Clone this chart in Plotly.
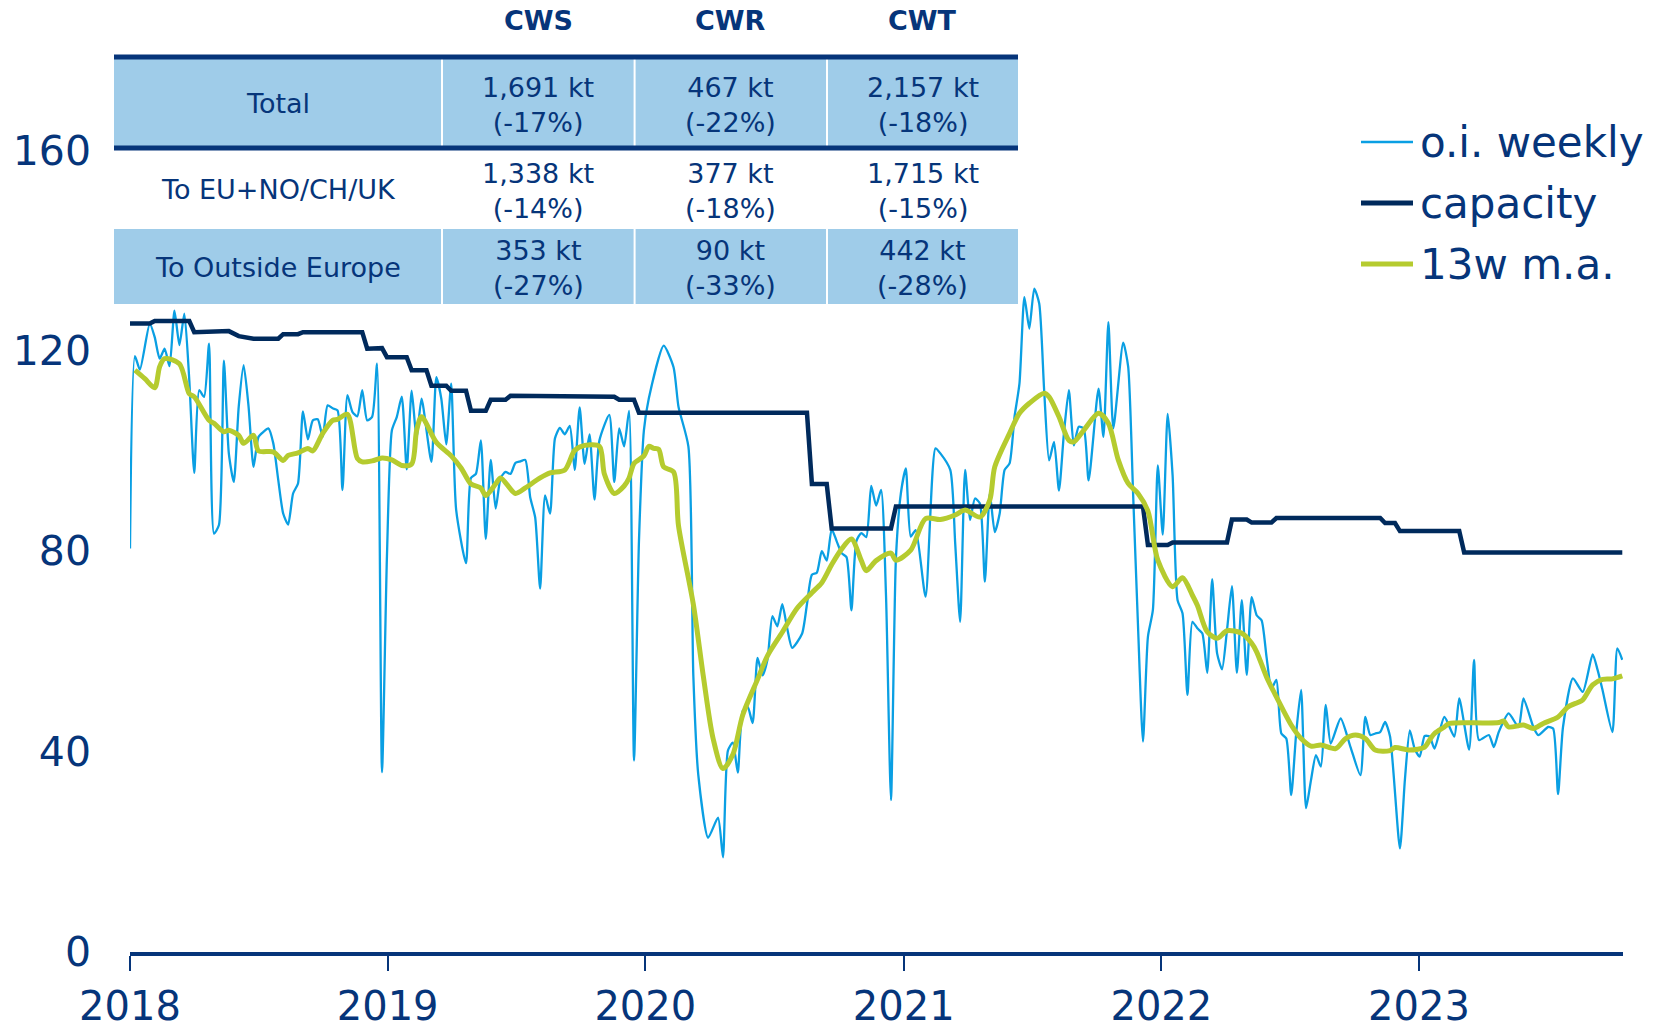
import pandas as pd
import plotly.graph_objects as go

# ---------------------------------------------------------------- data
START = pd.Timestamp("2018-01-01")

# o.i. weekly production (week offset from START, kt)
weekly_weeks = [
    0, 1, 2, 4, 5, 6, 7, 8, 9, 10, 11, 12, 13, 14, 15, 16, 17, 18, 19, 20,
    21, 22, 23, 24, 25, 26, 27, 28, 29, 30, 31, 32, 33, 34, 35, 36, 37, 38, 39, 40,
    41, 42, 43, 44, 45, 46, 47, 48, 49, 50, 51, 52, 53, 54, 55, 56, 57, 58, 59, 61,
    62, 63, 64, 65, 66, 68, 69, 70, 71, 72, 73, 74, 75, 76, 77, 78, 79, 80, 81, 82,
    83, 84, 85, 86, 87, 88, 89, 90, 91, 92, 93, 94, 95, 97, 98, 99, 100, 101, 102, 103,
    104, 105, 108, 110, 111, 113, 114, 115, 117, 119, 120, 121, 122, 123, 124, 125, 126, 127, 128, 129,
    130, 131, 132, 133, 134, 136, 137, 138, 139, 140, 141, 142, 143, 144, 145, 146, 147, 148, 149, 150,
    151, 152, 153, 154, 155, 156, 157, 158, 159, 161, 163, 164, 166, 167, 168, 169, 170, 171, 172, 173,
    174, 175, 176, 177, 178, 179, 180, 181, 182, 183, 184, 185, 186, 187, 188, 189, 190, 191, 192, 193,
    194, 196, 197, 198, 199, 201, 202, 203, 204, 205, 206, 207, 208, 209, 210, 211, 212, 213, 214, 215,
    216, 217, 218, 219, 220, 221, 222, 223, 224, 225, 226, 227, 228, 229, 230, 231, 232, 233, 234, 235,
    236, 237, 238, 239, 240, 241, 242, 243, 245, 247, 249, 250, 251, 252, 253, 254, 255, 257, 258, 259,
    260, 261, 262, 263, 264, 266, 268, 269, 271, 272, 273, 275, 276, 277, 279, 281, 282, 284, 285, 287,
    288, 289, 290, 292, 294, 296, 297, 298, 300, 301, 302,
]
weekly_values = [
    80.5, 118.9, 116.2, 125.4, 122.7, 118.4, 120.4, 116.9, 128.0, 121.1, 127.4, 114.1, 95.6, 112.1, 110.8, 121.4, 83.5, 85.2, 118.0, 99.5,
    93.8, 108.8, 117.1, 108.8, 96.8, 102.8, 103.8, 104.5, 101.5, 94.2, 87.5, 85.3, 91.5, 93.5, 107.9, 102.3, 106.1, 106.3, 102.8, 109.1,
    108.5, 108.1, 92.2, 111.1, 107.8, 106.9, 112.1, 106.1, 106.8, 117.4, 35.9, 79.0, 104.1, 106.8, 110.8, 96.3, 112.0, 102.5, 110.4, 97.8,
    114.7, 110.4, 101.3, 113.4, 88.3, 77.6, 94.6, 95.4, 102.1, 82.4, 98.2, 88.5, 94.6, 95.8, 95.4, 97.6, 97.9, 98.2, 90.7, 86.7,
    72.5, 91.1, 87.5, 102.5, 104.6, 103.3, 105.0, 96.2, 108.7, 97.4, 103.3, 90.3, 102.1, 107.2, 93.8, 104.5, 100.9, 108.0, 38.2, 82.0,
    104.1, 110.5, 121.0, 116.7, 108.8, 100.9, 55.2, 35.4, 22.8, 26.8, 18.9, 40.2, 41.8, 35.8, 48.1, 48.9, 45.7, 58.7, 55.2, 58.3,
    67.0, 65.0, 69.4, 64.6, 60.7, 63.5, 69.4, 75.3, 75.7, 80.0, 78.1, 84.4, 82.0, 79.6, 78.8, 68.2, 82.0, 83.6, 82.8, 93.0,
    89.1, 92.2, 71.0, 30.3, 78.5, 91.5, 96.5, 82.9, 84.2, 70.9, 100.5, 99.5, 96.2, 81.5, 65.9, 96.2, 86.2, 90.5, 89.5, 73.9,
    91.5, 83.8, 87.5, 96.2, 97.5, 106.8, 113.4, 130.7, 124.4, 132.4, 129.4, 112.1, 98.1, 101.8, 92.1, 103.5, 112.1, 101.1, 104.8, 104.5,
    94.1, 112.4, 102.8, 125.7, 104.5, 121.6, 116.8, 91.5, 64.9, 42.0, 62.9, 68.2, 97.1, 83.3, 107.4, 95.0, 70.2, 67.6, 51.3, 65.9,
    64.6, 63.6, 55.7, 74.4, 59.6, 56.4, 64.2, 73.0, 55.7, 70.2, 55.3, 70.8, 67.2, 66.2, 58.9, 52.6, 54.3, 43.6, 42.6, 31.3,
    43.6, 52.3, 28.7, 34.3, 39.3, 37.0, 49.3, 41.6, 46.6, 40.9, 35.3, 46.9, 43.3, 43.6, 43.9, 45.9, 43.0, 20.7, 34.3, 44.2,
    40.5, 39.0, 43.1, 43.0, 40.6, 46.9, 43.0, 50.6, 40.4, 58.3, 42.3, 43.3, 40.9, 43.9, 47.6, 44.9, 50.6, 44.9, 43.3, 44.9,
    44.6, 31.5, 44.9, 54.6, 51.9, 59.4, 56.3, 52.3, 43.9, 60.6, 58.3,
]

# 13-week moving average
ma_weeks = [
    1, 3, 5, 6, 7, 10, 12, 13, 16, 17, 19, 20, 22, 23, 25, 26, 29, 31, 32, 34,
    36, 37, 39, 41, 42, 44, 46, 47, 49, 51, 53, 55, 57, 58, 59, 62, 65, 67, 69, 71,
    72, 74, 75, 78, 80, 83, 85, 88, 90, 92, 95, 96, 98, 100, 101, 102, 104, 105, 106, 107,
    108, 110, 111, 114, 116, 118, 120, 122, 124, 127, 129, 132, 135, 138, 140, 142, 144, 146, 148, 149,
    151, 154, 155, 158, 161, 164, 167, 169, 172, 174, 175, 178, 180, 182, 185, 186, 188, 190, 191, 193,
    196, 198, 200, 202, 204, 206, 208, 211, 213, 215, 216, 218, 220, 222, 225, 227, 228, 230, 232, 235,
    237, 239, 241, 244, 246, 248, 250, 252, 255, 256, 259, 262, 263, 264, 266, 267, 274, 277, 278, 279,
    282, 284, 286, 289, 291, 293, 294, 296, 298, 300, 302,
]
ma_values = [
    116.1, 114.4, 112.6, 116.8, 118.4, 117.4, 111.4, 110.8, 106.1, 105.5, 103.8, 104.1, 103.1, 101.5, 103.1, 100.0, 99.8, 98.1, 99.1, 99.6,
    100.5, 100.0, 103.5, 106.1, 106.3, 107.3, 98.5, 97.8, 98.0, 98.6, 98.2, 97.1, 97.4, 104.1, 106.8, 101.7, 99.0, 96.6, 93.4, 92.6,
    91.1, 93.4, 94.6, 91.5, 92.6, 94.6, 95.6, 96.2, 100.1, 101.1, 100.9, 95.4, 91.5, 93.0, 94.6, 97.5, 99.0, 100.9, 100.5, 100.3,
    96.8, 95.8, 85.1, 69.4, 55.2, 42.6, 36.6, 39.4, 47.3, 54.4, 59.1, 63.8, 68.6, 71.7, 73.7, 77.3, 80.4, 82.4, 78.1, 76.1,
    78.1, 79.6, 78.2, 80.2, 86.5, 86.3, 87.2, 88.2, 86.8, 90.2, 96.8, 103.5, 107.5, 109.5, 111.5, 110.8, 106.8, 102.1, 101.8, 104.1,
    107.5, 105.5, 98.2, 93.5, 91.5, 88.0, 78.2, 72.9, 74.7, 71.2, 69.2, 63.9, 62.6, 64.1, 63.6, 61.6, 59.9, 54.9, 50.9, 45.3,
    42.6, 41.1, 41.3, 40.6, 42.6, 43.3, 42.6, 40.3, 40.2, 40.8, 40.3, 40.9, 42.3, 43.6, 44.9, 45.6, 45.7, 45.8, 46.1, 44.9,
    45.3, 44.6, 45.6, 46.9, 48.9, 49.8, 50.3, 53.3, 54.4, 54.5, 55.1,
]

# production capacity (week offset of each change point, kt)
capacity_weeks = [
    0, 4, 5, 12, 13, 20, 22, 25, 30, 31, 34, 35, 47, 48, 51, 52, 56, 57, 60, 61,
    64, 65, 68, 69, 72, 73, 76, 77, 98, 99, 102, 103, 137, 138, 141, 142, 154, 155, 205, 206,
    210, 211, 222, 223, 226, 227, 231, 232, 253, 254, 256, 257, 269, 270, 302,
]
capacity_values = [
    125.4, 125.4, 125.9, 125.9, 123.7, 123.9, 122.9, 122.4, 122.4, 123.3, 123.3, 123.7, 123.7, 120.4, 120.5, 118.7, 118.7, 116.1, 116.1, 113.0,
    113.0, 112.0, 112.0, 108.0, 108.0, 110.2, 110.2, 111.0, 110.8, 110.2, 110.2, 107.6, 107.6, 93.4, 93.4, 84.5, 84.5, 88.9, 88.9, 81.2,
    81.2, 81.7, 81.7, 86.3, 86.3, 85.7, 85.7, 86.6, 86.6, 85.6, 85.6, 84.0, 84.0, 79.7, 79.7,
]

y_ticks = [0, 40, 80, 120, 160]
x_tick_years = [2018, 2019, 2020, 2021, 2022, 2023]

# summary table
table_columns = ["CWS", "CWR", "CWT"]
table_rows = ["Total", "To EU+NO/CH/UK", "To Outside Europe"]
table_kt = [[1691, 467, 2157], [1338, 377, 1715], [353, 90, 442]]
table_pct = [[-17, -22, -18], [-14, -18, -15], [-27, -33, -28]]

legend_names = ["o.i. weekly", "capacity", "13w m.a."]

# ---------------------------------------------------------------- styling
NAVY_TEXT = "#06357a"
NAVY_LINE = "#002a5c"
BLUE = "#0a9fe3"
GREEN = "#b5cb2f"
TABLE_FILL = "#9fcce9"
FONT = "DejaVu Sans"
TABLE_SIZE = 27

W, H = 1663, 1031
ML, MR, MT, MB = 130, 40, 50, 79
PW, PH = W - ML - MR, H - MT - MB


def px_x(px):
    return (px - ML) / PW


def px_y(py):
    return (H - MB - py) / PH


def to_dates(weeks):
    return [START + pd.Timedelta(weeks=w) for w in weeks]


fig = go.Figure()
fig.add_trace(go.Scatter(
    x=to_dates(weekly_weeks), y=weekly_values, mode="lines", name=legend_names[0],
    line=dict(color=BLUE, width=2.3, shape="spline", smoothing=0.6),
))
fig.add_trace(go.Scatter(
    x=to_dates(capacity_weeks), y=capacity_values, mode="lines", name=legend_names[1],
    line=dict(color=NAVY_LINE, width=4.5),
))
fig.add_trace(go.Scatter(
    x=to_dates(ma_weeks), y=ma_values, mode="lines", name=legend_names[2],
    line=dict(color=GREEN, width=5, shape="spline", smoothing=0.8),
))

shapes = []
annotations = []

# table geometry (pixels)
col_edges = [114, 442, 634.6, 827, 1018]
row_text_y = [105, 191, 268]
shaded_bands = [(59, 146), (229, 304)]

# shaded rows (Total and Outside Europe)
for top, bottom in shaded_bands:
    for c in range(4):
        shapes.append(dict(
            type="rect", xref="paper", yref="paper",
            x0=px_x(col_edges[c] + (1 if c > 0 else 0)), x1=px_x(col_edges[c + 1] - (1 if c < 3 else 0)),
            y0=px_y(bottom), y1=px_y(top),
            fillcolor=TABLE_FILL, line=dict(width=0), layer="below",
        ))
# thick rules above and below the Total row
for yline in (57, 148):
    shapes.append(dict(
        type="line", xref="paper", yref="paper",
        x0=px_x(col_edges[0]), x1=px_x(col_edges[-1]), y0=px_y(yline), y1=px_y(yline),
        line=dict(color=NAVY_TEXT, width=5),
    ))

for c, name in enumerate(table_columns):
    annotations.append(dict(
        text=f"<b>{name}</b>", x=px_x((col_edges[c + 1] + col_edges[c + 2]) / 2), y=px_y(20),
        xref="paper", yref="paper", showarrow=False, xanchor="center", yanchor="middle",
        font=dict(family=FONT, size=TABLE_SIZE, color=NAVY_TEXT),
    ))
for r, name in enumerate(table_rows):
    annotations.append(dict(
        text=name, x=px_x((col_edges[0] + col_edges[1]) / 2), y=px_y(row_text_y[r] - 1),
        xref="paper", yref="paper", showarrow=False, xanchor="center", yanchor="middle",
        font=dict(family=FONT, size=TABLE_SIZE, color=NAVY_TEXT),
    ))
    for c in range(3):
        annotations.append(dict(
            text=f"{table_kt[r][c]:,} kt<br>({table_pct[r][c]}%)",
            x=px_x((col_edges[c + 1] + col_edges[c + 2]) / 2), y=px_y(row_text_y[r]),
            xref="paper", yref="paper", showarrow=False, xanchor="center", yanchor="middle",
            font=dict(family=FONT, size=TABLE_SIZE, color=NAVY_TEXT),
        ))

# legend drawn as line samples with labels
legend_styles = [(BLUE, 2.3), (NAVY_LINE, 5), (GREEN, 5)]
legend_y = [142, 203, 264]
for name, (color, width), ly in zip(legend_names, legend_styles, legend_y):
    shapes.append(dict(
        type="line", xref="paper", yref="paper",
        x0=px_x(1361), x1=px_x(1413), y0=px_y(ly), y1=px_y(ly),
        line=dict(color=color, width=width),
    ))
    annotations.append(dict(
        text=name, x=px_x(1418), y=px_y(ly),
        xref="paper", yref="paper", showarrow=False, xanchor="left", yanchor="middle",
        font=dict(family=FONT, size=42, color=NAVY_TEXT),
    ))

fig.update_layout(
    width=W, height=H,
    margin=dict(l=ML, r=MR, t=MT, b=MB, autoexpand=False),
    paper_bgcolor="white", plot_bgcolor="white",
    showlegend=False,
    font=dict(family=FONT, color=NAVY_TEXT),
    shapes=shapes, annotations=annotations,
)
fig.update_xaxes(
    type="date", automargin=False,
    range=[START, START + pd.Timedelta(weeks=302, days=1)],
    tickvals=[pd.Timestamp(f"{y}-01-01") for y in x_tick_years],
    ticktext=[str(y) for y in x_tick_years],
    showgrid=False, zeroline=False,
    showline=True, linecolor=NAVY_TEXT, linewidth=4,
    ticks="outside", ticklen=15, tickwidth=2, tickcolor=NAVY_TEXT,
    ticklabelstandoff=1,
    tickfont=dict(family=FONT, size=40, color=NAVY_TEXT),
)
fig.update_yaxes(
    automargin=False,
    range=[0, 180],
    tickvals=y_ticks,
    showgrid=False, zeroline=False, showline=False,
    ticks="", ticklabelstandoff=38,
    tickfont=dict(family=FONT, size=41, color=NAVY_TEXT),
)

fig.write_html("out.html")
